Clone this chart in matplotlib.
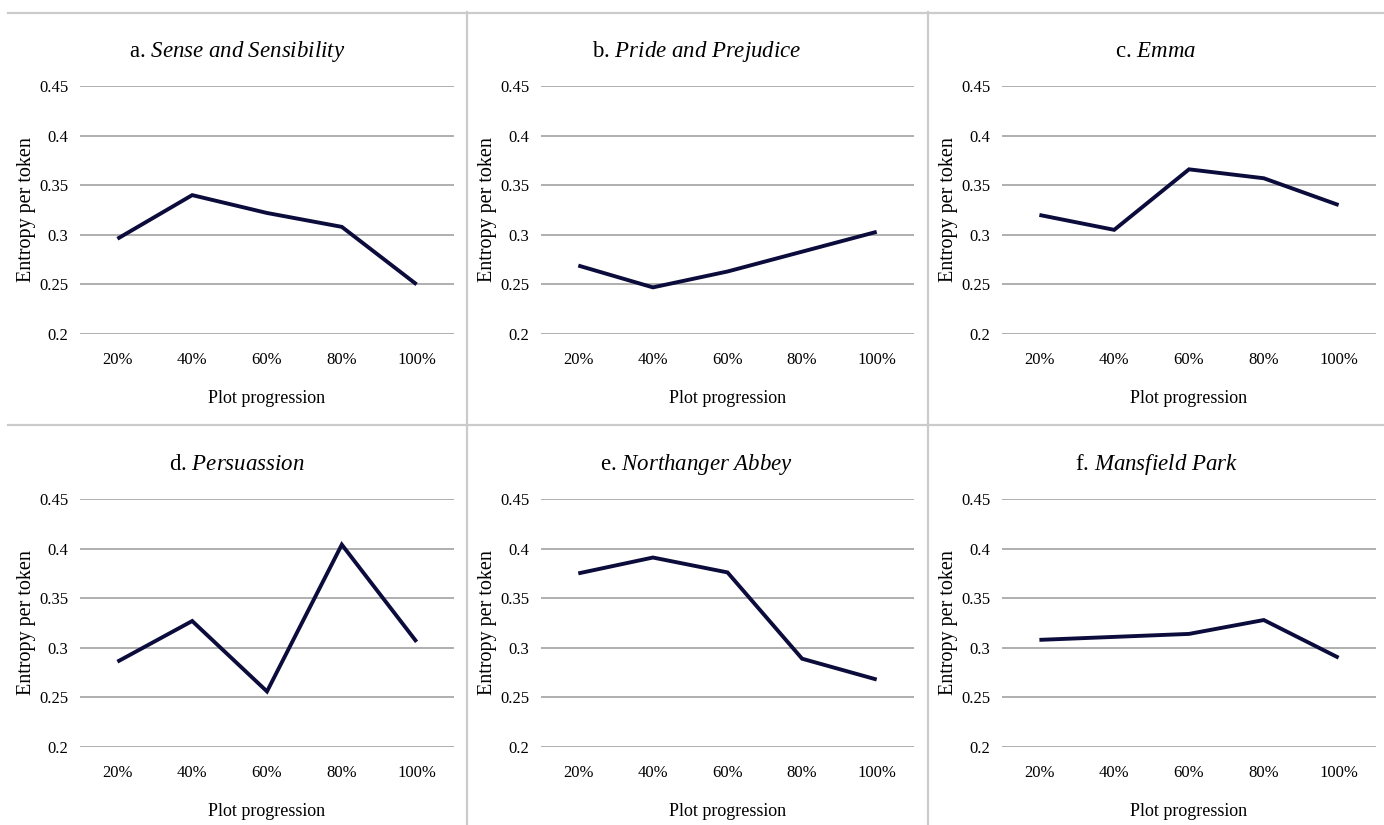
import matplotlib
matplotlib.use("Agg")
import matplotlib.pyplot as plt
from matplotlib.lines import Line2D

plt.rcParams['font.family'] = 'Liberation Serif'
plt.rcParams['mathtext.fontset'] = 'custom'
plt.rcParams['mathtext.rm'] = 'Liberation Serif'
plt.rcParams['mathtext.it'] = 'Liberation Serif:italic'

progress = ["20%", "40%", "60%", "80%", "100%"]
yticks = [0.2, 0.25, 0.3, 0.35, 0.4, 0.45]
ytick_labels = ["0.2", "0.25", "0.3", "0.35", "0.4", "0.45"]

letters = ["a.", "b.", "c.", "d.", "e.", "f."]
novels = ["Sense and Sensibility", "Pride and Prejudice", "Emma",
          "Persuassion", "Northanger Abbey", "Mansfield Park"]

sense = [0.296, 0.340, 0.322, 0.308, 0.250]
pride = [0.269, 0.247, 0.263, 0.283, 0.303]
emma = [0.320, 0.305, 0.366, 0.357, 0.330]
persuasion = [0.286, 0.327, 0.256, 0.404, 0.306]
northanger = [0.375, 0.391, 0.376, 0.289, 0.268]
mansfield = [0.308, 0.311, 0.314, 0.328, 0.290]
series = [sense, pride, emma, persuasion, northanger, mansfield]

W, H = 1384, 825
fig = plt.figure(figsize=(W / 100, H / 100), dpi=100)

# plot areas in pixels: left, right, top(0.45), bottom(0.2)
cols = [(80, 454), (541, 914), (1002, 1376)]
rows = [(86, 334), (499, 747)]
# panel centres for the titles
panel_cx = [237, 697, 1156]

line_col = "#0c0c3c"
grid_col = "#a9a9a9"

for i in range(6):
    r, c = divmod(i, 3)
    x0, x1 = cols[c]
    t0, b0 = rows[r]
    ax = fig.add_axes([x0 / W, 1 - b0 / H, (x1 - x0) / W, (b0 - t0) / H])
    ax.plot(range(len(progress)), series[i], color=line_col, lw=2.8,
            solid_joinstyle="miter", solid_capstyle="butt")
    ax.set_xlim(-0.5, len(progress) - 0.5)
    ax.set_ylim(0.2, 0.45)
    ax.set_yticks(yticks)
    ax.set_yticklabels(ytick_labels)
    ax.set_xticks(range(len(progress)))
    ax.set_xticklabels(progress)
    ax.grid(axis="y", color=grid_col, lw=1.3)
    ax.set_axisbelow(True)
    for s in ax.spines.values():
        s.set_visible(False)
    ax.tick_params(axis="y", length=0, pad=8.5, labelsize=12)
    ax.tick_params(axis="x", length=0, pad=13, labelsize=12)
    ax.set_xlabel("Plot progression", fontsize=13, labelpad=16)
    ax.set_ylabel("Entropy per token", fontsize=14.5)
    ax.yaxis.set_label_coords(-0.118, 0.5)
    name = novels[i].replace(" ", r"\ ")
    ax.set_title(letters[i] + r" $\mathit{" + name + "}$", fontsize=16.5,
                 x=(panel_cx[c] - x0) / (x1 - x0), pad=21)

# panel frame lines
def hline(y, xa, xb):
    fig.add_artist(Line2D([xa / W, xb / W], [1 - y / H, 1 - y / H],
                          color="#cbcbcb", lw=1.6))

def vline(x, ya, yb):
    fig.add_artist(Line2D([x / W, x / W], [1 - ya / H, 1 - yb / H],
                          color="#cbcbcb", lw=1.6))

hline(12.5, 8, W)
hline(425, 8, W)
vline(467, 12, H)
vline(928, 12, H)

fig.savefig("out.png", dpi=100)
